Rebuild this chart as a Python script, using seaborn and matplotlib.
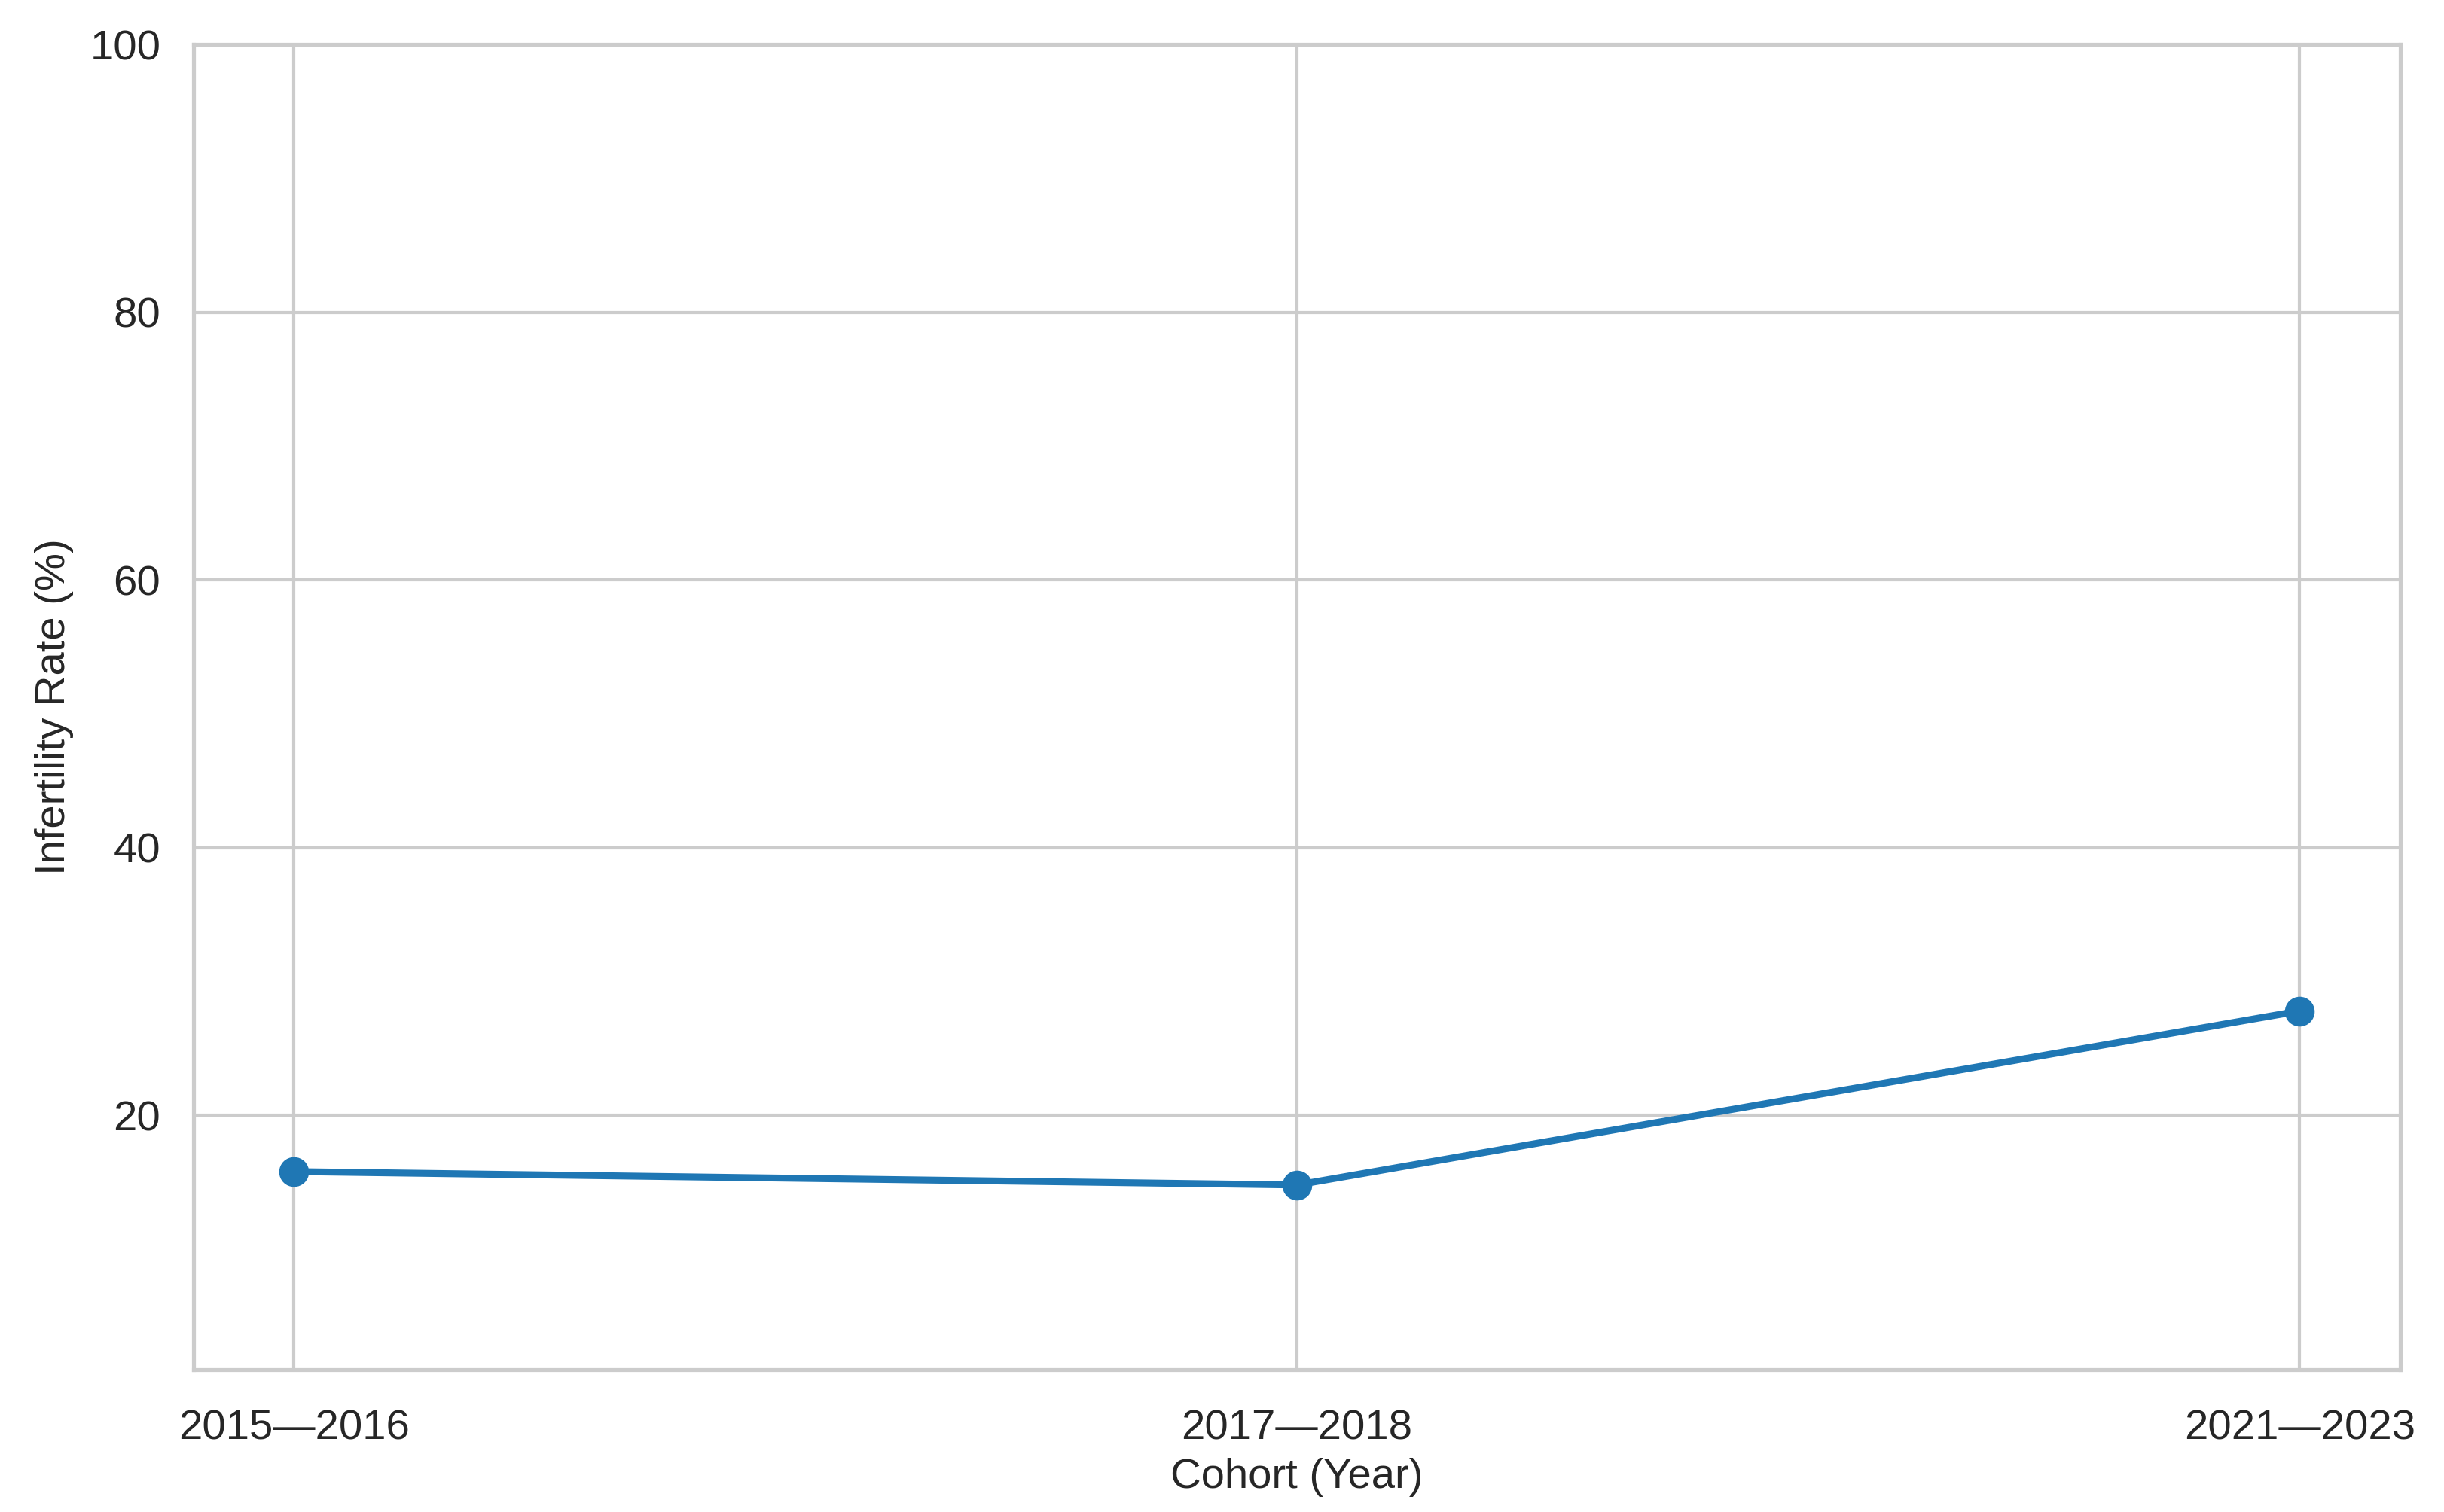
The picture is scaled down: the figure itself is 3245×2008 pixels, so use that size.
import numpy as np
import pandas as pd
import matplotlib.pyplot as plt
import seaborn as sns

cohorts = ['2015—2016', '2017—2018', '2021—2023']
rates = [15.8, 14.8, 27.8]

sns.set_theme(style="whitegrid")
plt.rcParams['font.family'] = ['Liberation Sans', 'DejaVu Sans']

df = pd.DataFrame({'Cohort': cohorts, 'Rate': rates})

fig, ax = plt.subplots(figsize=(3245 / 300, 2008 / 300), dpi=300)
sns.lineplot(data=df, x='Cohort', y='Rate', marker='o', ax=ax, color='#1f77b4',
             linewidth=2.2, markersize=9.5, markeredgewidth=0, sort=False)

ax.set_ylim(1, 100)
ax.set_yticks([20, 40, 60, 80, 100])
ax.set_xlabel('Cohort (Year)', fontsize=13.5, labelpad=3)
ax.set_ylabel('Infertility Rate (%)', fontsize=13.5, labelpad=5)
ax.tick_params(axis='x', labelsize=13.5, pad=6.5)
ax.tick_params(axis='y', labelsize=13.5, pad=4.5)

fig.subplots_adjust(left=0.0792, right=0.982, top=0.9706, bottom=0.0941)
fig.savefig('out.png', dpi=300)
